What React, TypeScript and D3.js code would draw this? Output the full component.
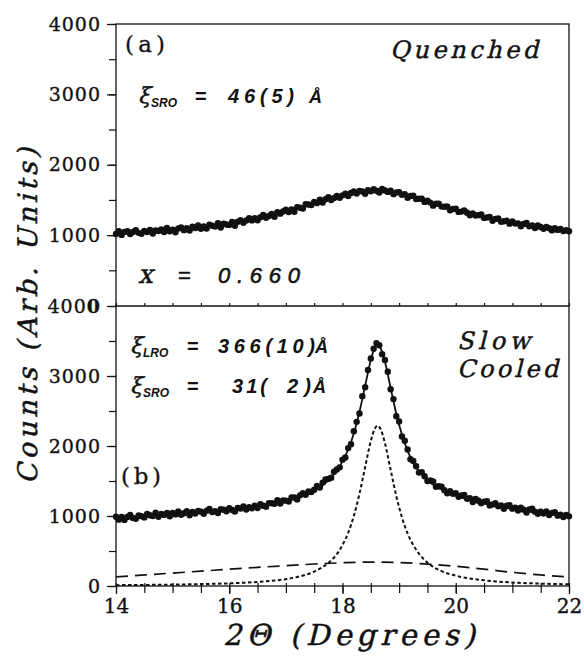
import * as d3 from "d3";
import { useRef, useEffect } from "react";

// 2-theta sampling grid of the scans (0.05 deg steps)
const twoTheta = d3.range(161).map((i) => +(14 + i * 0.05).toFixed(2));

// (a) quenched scan
const quenchedCounts = [
  1015, 1056, 1003, 1044, 1056, 1017, 1044, 1070, 1032, 1018,
  1060, 1043, 1075, 1023, 1065, 1058, 1081, 1044, 1101, 1054,
  1077, 1041, 1094, 1108, 1071, 1100, 1064, 1118, 1102, 1136,
  1090, 1125, 1094, 1149, 1133, 1123, 1168, 1109, 1164, 1150,
  1145, 1187, 1134, 1191, 1213, 1175, 1208, 1241, 1209, 1242,
  1210, 1254, 1288, 1247, 1271, 1300, 1260, 1325, 1305, 1335,
  1360, 1327, 1364, 1331, 1398, 1390, 1377, 1439, 1436, 1428,
  1470, 1456, 1502, 1463, 1509, 1540, 1499, 1528, 1557, 1531,
  1565, 1588, 1556, 1599, 1622, 1590, 1629, 1619, 1588, 1638,
  1622, 1652, 1631, 1606, 1655, 1635, 1614, 1633, 1582, 1606,
  1610, 1574, 1583, 1532, 1556, 1560, 1513, 1516, 1519, 1472,
  1490, 1462, 1419, 1446, 1448, 1405, 1403, 1406, 1354, 1372,
  1375, 1330, 1334, 1349, 1318, 1283, 1308, 1279, 1284, 1295,
  1245, 1252, 1258, 1205, 1231, 1238, 1190, 1198, 1205, 1163,
  1195, 1164, 1167, 1126, 1159, 1173, 1127, 1137, 1101, 1136,
  1115, 1091, 1116, 1097, 1067, 1098, 1074, 1086, 1057, 1069,
  1055,
];
const quenchedFitX = [
  14, 14.25, 14.5, 14.75, 15, 15.25, 15.5, 15.75, 16, 16.25, 16.5, 16.75, 17,
  17.25, 17.5, 17.75, 18, 18.25, 18.5, 18.75, 19, 19.25, 19.5, 19.75, 20,
  20.25, 20.5, 20.75, 21, 21.25, 21.5, 21.75, 22,
];
const quenchedFitY = [
  1030, 1037, 1045, 1058, 1072, 1090, 1110, 1133, 1160, 1195, 1235, 1280, 1330,
  1390, 1450, 1505, 1550, 1590, 1612, 1610, 1580, 1525, 1465, 1400, 1340,
  1288, 1240, 1198, 1160, 1128, 1100, 1078, 1060,
];

// (b) slow cooled scan
const slowCounts = [
  990, 948, 986, 944, 987, 1015, 973, 961, 1009, 997,
  980, 1028, 1011, 999, 1047, 990, 1028, 1016, 1044, 997,
  1045, 1023, 1065, 1018, 1040, 1068, 1010, 1058, 1035, 1073,
  1060, 1033, 1076, 1099, 1057, 1070, 1043, 1096, 1089, 1067,
  1110, 1085, 1064, 1114, 1108, 1138, 1092, 1127, 1111, 1146,
  1115, 1169, 1147, 1131, 1184, 1183, 1176, 1225, 1178, 1222,
  1220, 1208, 1266, 1264, 1237, 1295, 1327, 1304, 1351, 1343,
  1375, 1429, 1408, 1477, 1521, 1530, 1547, 1633, 1665, 1695,
  1805, 1835, 1970, 2025, 2210, 2345, 2465, 2710, 2840, 3085,
  3250, 3390, 3470, 3440, 3310, 3230, 3060, 2810, 2670, 2425,
  2350, 2135, 2075, 1950, 1810, 1785, 1710, 1620, 1627, 1568,
  1500, 1509, 1493, 1417, 1426, 1420, 1367, 1324, 1356, 1318,
  1325, 1274, 1293, 1302, 1246, 1255, 1199, 1243, 1217, 1181,
  1205, 1212, 1149, 1166, 1183, 1140, 1152, 1104, 1146, 1153,
  1105, 1119, 1078, 1117, 1091, 1050, 1094, 1103, 1062, 1031,
  1060, 1035, 1065, 1015, 1045, 1055, 1005, 1020, 985, 1015,
  995,
];
const slowFitX = [
  14, 14.5, 15, 15.5, 16, 16.5, 17, 17.25, 17.5, 17.75, 17.9, 18, 18.1, 18.2,
  18.3, 18.4, 18.5, 18.56, 18.62, 18.68, 18.75, 18.85, 18.95, 19.05, 19.15,
  19.25, 19.35, 19.5, 19.75, 20, 20.5, 21, 21.5, 22,
];
const slowFitY = [
  970, 1000, 1030, 1055, 1085, 1130, 1215, 1280, 1365, 1510, 1650, 1780, 1950,
  2180, 2490, 2860, 3230, 3385, 3440, 3385, 3200, 2830, 2460, 2160, 1930,
  1760, 1640, 1510, 1380, 1290, 1180, 1100, 1040, 990,
];
// long range order component (short dashes)
const lroY = [
  12, 15, 20, 27, 38, 58, 98, 138, 205, 330, 455, 585, 760, 1000, 1320, 1700,
  2070, 2230, 2290, 2230, 2040, 1660, 1285, 980, 750, 585, 462, 335, 212, 148,
  82, 50, 34, 24,
];
// short range order component (long dashes)
const sroX = [14, 14.5, 15, 15.5, 16, 16.5, 17, 17.5, 18, 18.5, 19, 19.5, 20, 20.5, 21, 21.5, 22];
const sroY = [130, 158, 185, 212, 240, 266, 290, 314, 332, 342, 335, 312, 282, 240, 195, 158, 128];

const xTicks = [14, 16, 18, 20, 22];
const xMinor = d3.range(14, 22.01, 0.5);
const yLabelsTop = [1000, 2000, 3000, 4000];
const yLabelsBottom = [0, 1000, 2000, 3000, 4000];
const yMinor = d3.range(0, 4001, 500);

export default function App() {
  const svgRef = useRef<SVGSVGElement>(null);
  const width = 584;
  const height = 656;

  useEffect(() => {
    const svg = d3.select(svgRef.current);
    svg.selectAll("*").remove();

    const ink = "#111";
    const serif = "'DejaVu Serif', serif";
    const sans = "'Liberation Sans', Arial, sans-serif";
    const slant = "skewX(-14)";

    const x = d3.scaleLinear().domain([14, 22]).range([116, 569]);
    const yTop = d3.scaleLinear().domain([0, 4000]).range([305.5, 24]);
    const yBot = d3.scaleLinear().domain([0, 4000]).range([586, 306]);

    const drawLine = (xs: number[], ys: number[], y: d3.ScaleLinear<number, number>, dash: string | null, w: number) => {
      const line = d3
        .line<number>()
        .x((_, i) => x(xs[i]))
        .y((d) => y(d))
        .curve(d3.curveMonotoneX);
      const p = svg
        .append("path")
        .datum(ys)
        .attr("fill", "none")
        .attr("stroke", ink)
        .attr("stroke-width", w)
        .attr("d", line);
      if (dash) p.attr("stroke-dasharray", dash);
    };

    const drawDots = (counts: number[], y: d3.ScaleLinear<number, number>) => {
      svg
        .append("g")
        .selectAll("circle")
        .data(counts)
        .join("circle")
        .attr("cx", (_, i) => x(twoTheta[i]))
        .attr("cy", (d) => y(d))
        .attr("r", 3.2)
        .attr("fill", ink);
    };

    // panel (a)
    drawLine(quenchedFitX, quenchedFitY, yTop, null, 1.6);
    drawDots(quenchedCounts, yTop);

    // panel (b)
    drawLine(sroX, sroY, yBot, "12,7", 1.7);
    drawLine(slowFitX, lroY, yBot, "3.5,2.5", 2);
    drawLine(slowFitX, slowFitY, yBot, null, 1.8);
    drawDots(slowCounts, yBot);

    // frame
    svg
      .append("rect")
      .attr("x", x(14))
      .attr("y", yTop(4000))
      .attr("width", x(22) - x(14))
      .attr("height", yBot(0) - yTop(4000))
      .attr("fill", "none")
      .attr("stroke", ink)
      .attr("stroke-width", 1.3);
    svg
      .append("line")
      .attr("x1", x(14))
      .attr("x2", x(22))
      .attr("y1", yBot(4000))
      .attr("y2", yBot(4000))
      .attr("stroke", ink)
      .attr("stroke-width", 1.3);

    const styleAxis = (g: d3.Selection<SVGGElement, unknown, null, undefined>, size: number) => {
      g.select(".domain").remove();
      g.selectAll("line").attr("stroke", ink).attr("stroke-width", 1.2);
      g.selectAll("text").attr("fill", ink).attr("stroke", ink).attr("stroke-width", 0.35);
      g.attr("font-family", serif).attr("font-size", size);
    };

    // left axes
    svg
      .append("g")
      .attr("transform", `translate(${x(14)},0)`)
      .call(d3.axisLeft(yTop).tickValues(yMinor.filter((v) => v > 0)).tickSize(7).tickFormat(() => ""))
      .call((g) => styleAxis(g, 19));
    svg
      .append("g")
      .attr("transform", `translate(${x(14)},0)`)
      .call(d3.axisLeft(yTop).tickValues(yLabelsTop).tickSize(9).tickPadding(6).tickFormat(d3.format("d")))
      .call((g) => styleAxis(g, 19))
      .selectAll("text")
      .attr("letter-spacing", 1);
    svg
      .append("g")
      .attr("transform", `translate(${x(14)},0)`)
      .call(d3.axisLeft(yBot).tickValues(yMinor).tickSize(7).tickFormat(() => ""))
      .call((g) => styleAxis(g, 19));
    const leftBot = svg
      .append("g")
      .attr("transform", `translate(${x(14)},0)`)
      .call(d3.axisLeft(yBot).tickValues(yLabelsBottom).tickSize(9).tickPadding(6).tickFormat(d3.format("d")))
      .call((g) => styleAxis(g, 19));
    leftBot.selectAll("text").attr("letter-spacing", 1);
    // 4000 label overprinted by the upper panel's 0
    leftBot
      .selectAll<SVGTextElement, number>("text")
      .filter((d) => d === 4000)
      .text("400")
      .append("tspan")
      .attr("font-weight", "bold")
      .text("0");

    // bottom axis
    svg
      .append("g")
      .attr("transform", `translate(0,${yBot(0)})`)
      .call(d3.axisBottom(x).tickValues(xMinor).tickSize(7).tickFormat(() => ""))
      .call((g) => styleAxis(g, 20));
    svg
      .append("g")
      .attr("transform", `translate(0,${yBot(0)})`)
      .call(d3.axisTop(x).tickValues(xMinor).tickSize(3).tickFormat(() => ""))
      .call((g) => styleAxis(g, 20));
    svg
      .append("g")
      .attr("transform", `translate(0,${yBot(0)})`)
      .call(d3.axisBottom(x).tickValues(xTicks).tickSize(8).tickPadding(5).tickFormat(d3.format("d")))
      .call((g) => styleAxis(g, 20));
    // small ticks on the shared middle axis
    svg
      .append("g")
      .attr("transform", `translate(0,${yBot(4000)})`)
      .call(d3.axisTop(x).tickValues(xMinor).tickSize(3).tickFormat(() => ""))
      .call((g) => styleAxis(g, 20));

    // slanted serif text (the print uses a serif italic)
    const slanted = (transform: string, txt: string, size: number, len: number, anchor = "start") =>
      svg
        .append("text")
        .attr("transform", `${transform} ${slant}`)
        .attr("text-anchor", anchor)
        .attr("font-family", serif)
        .attr("font-size", size)
        .attr("fill", ink)
        .attr("stroke", ink)
        .attr("stroke-width", 0.45)
        .attr("textLength", len)
        .attr("lengthAdjust", "spacing")
        .text(txt);

    // axis titles
    slanted("translate(223,645)", "2Θ (Degrees)", 29, 252);
    slanted("translate(37,316) rotate(-90)", "Counts (Arb. Units)", 27, 336, "middle");

    const label = (tx: number, ty: number, txt: string, family: string, size: number, opts: { italic?: boolean; bold?: boolean; len?: number; heavy?: number } = {}) => {
      const t = svg
        .append("text")
        .attr("x", tx)
        .attr("y", ty)
        .attr("font-family", family)
        .attr("font-size", size)
        .attr("fill", ink)
        .attr("font-style", opts.italic ? "italic" : "normal")
        .attr("font-weight", opts.bold ? "bold" : "normal")
        .text(txt);
      if (opts.len) t.attr("textLength", opts.len).attr("lengthAdjust", "spacing");
      if (opts.heavy) t.attr("stroke", ink).attr("stroke-width", opts.heavy);
      return t;
    };

    const xi = (tx: number, ty: number, sub: string) => {
      slanted(`translate(${tx},${ty})`, "ξ", 22, 11);
      label(tx + 13, ty + 4, sub, sans, 12, { italic: true, bold: true });
    };

    // panel (a) texts
    label(125, 52, "(a)", serif, 23, { len: 40, heavy: 0.3 });
    slanted("translate(390,58)", "Quenched", 24, 148);
    xi(138, 103, "SRO");
    label(195, 103, "=", sans, 20, { bold: true });
    label(228, 103, "46(5)", sans, 20, { italic: true, bold: true, len: 66 });
    label(309, 103, "Å", sans, 18, { italic: true, bold: true });
    slanted("translate(138,283)", "x", 26, 17);
    label(178, 283, "=", sans, 22, { heavy: 0.5 });
    label(218, 283, "0.660", sans, 22, { italic: true, len: 82, heavy: 0.6 });

    // panel (b) texts
    xi(130, 353, "LRO");
    label(187, 353, "=", sans, 20, { bold: true });
    label(218, 353, "366(10)", sans, 20, { italic: true, bold: true, len: 97 });
    label(315, 353, "Å", sans, 18, { italic: true, bold: true });
    xi(130, 393, "SRO");
    label(187, 393, "=", sans, 20, { bold: true });
    label(232, 393, "31(", sans, 20, { italic: true, bold: true, len: 35 });
    label(287, 393, "2)", sans, 20, { italic: true, bold: true, len: 24 });
    label(313, 393, "Å", sans, 18, { italic: true, bold: true });
    slanted("translate(457,349)", "Slow", 24, 73);
    slanted("translate(457,377)", "Cooled", 24, 101);
    label(121, 484, "(b)", serif, 23, { len: 40, heavy: 0.3 });
  }, []);

  return (
    <svg
      ref={svgRef}
      width={width}
      height={height}
      style={{ position: "absolute", left: 0, top: 0, background: "#fff" }}
    ></svg>
  );
}
